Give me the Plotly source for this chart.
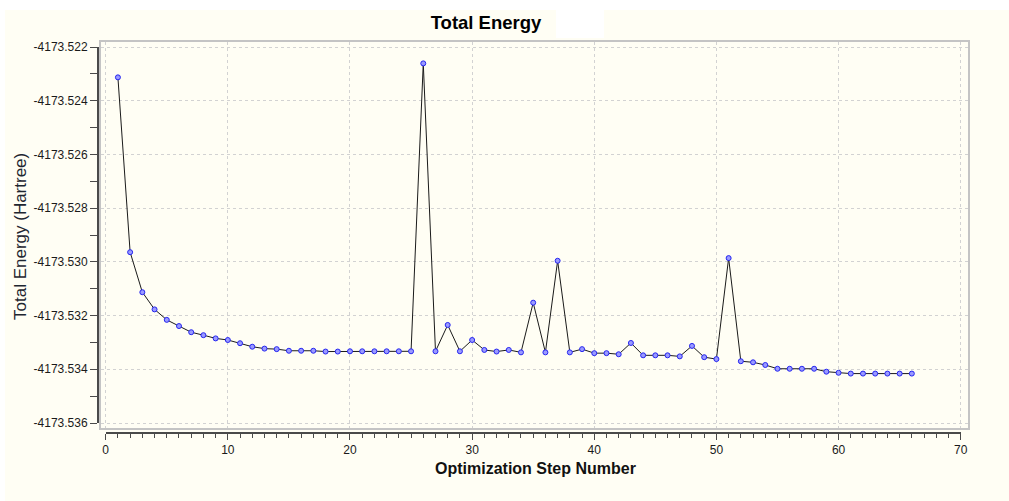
import plotly.graph_objects as go

# Geometry optimisation: total energy per step (Hartree)
steps = list(range(1, 67))
energies = [
    -4173.52313, -4173.52964, -4173.53113, -4173.53177, -4173.53216,
    -4173.53239, -4173.53262, -4173.53273, -4173.53285, -4173.53291,
    -4173.53303, -4173.53316, -4173.53323, -4173.53325, -4173.53331,
    -4173.53331, -4173.53331, -4173.53334, -4173.53334, -4173.53333,
    -4173.53333, -4173.53333, -4173.53333, -4173.53333, -4173.53333,
    -4173.52261, -4173.53333, -4173.53235, -4173.53333, -4173.53291,
    -4173.53328, -4173.53334, -4173.53328, -4173.53337, -4173.53152,
    -4173.53337, -4173.52996, -4173.53337, -4173.53325, -4173.53340,
    -4173.53340, -4173.53344, -4173.53302, -4173.53348, -4173.53348,
    -4173.53348, -4173.53352, -4173.53313, -4173.53355, -4173.53362,
    -4173.52986, -4173.53370, -4173.53374, -4173.53384, -4173.53398,
    -4173.53398, -4173.53398, -4173.53398, -4173.53409, -4173.53413,
    -4173.53416, -4173.53416, -4173.53416, -4173.53416, -4173.53416,
    -4173.53416,
]

x_ticks = [0, 10, 20, 30, 40, 50, 60, 70]
y_tickvals = [-4173.522, -4173.524, -4173.526, -4173.528,
              -4173.530, -4173.532, -4173.534, -4173.536]
y_ticktext = ["-4173.522", "-4173.524", "-4173.526", "-4173.528",
              "-4173.530", "-4173.532", "-4173.534", "-4173.536"]

title_text = "Total Energy"
x_title = "Optimization Step Number"
y_title = "Total Energy (Hartree)"

# ---- page layout in pixels ----
W, H = 1009, 501
L, R, T, B = 98, 968, 42, 433           # plotting paper area
FRAME_L, FRAME_B = 100.7, 427.7          # light frame around the grid
AX_X0, AX_X1 = 105.7, 960.7              # x axis (x_ticks[0] .. x_ticks[-1])
AX_YT, AX_YB = 47.0, 423.0               # y axis (top tick .. bottom tick)

PW, PH = R - L, B - T


def px_x(p):
    return (p - L) / PW


def px_y(p):
    return (B - p) / PH


x_lo, x_hi = x_ticks[0], x_ticks[-1]
y_hi, y_lo = y_tickvals[0], y_tickvals[-1]
sx = (AX_X1 - AX_X0) / (x_hi - x_lo)
sy = (AX_YB - AX_YT) / (y_hi - y_lo)

# data range of the framed grid area
grid_xr = [x_lo - (AX_X0 - FRAME_L) / sx, x_lo + (R - AX_X0) / sx]
grid_yr = [y_lo - (FRAME_B - AX_YB) / sy, y_hi + (AX_YT - T) / sy]

CREAM = "#FFFEF4"
AXIS_COL = "#4A4A4A"
FONT = "Liberation Sans, Arial, sans-serif"

fig = go.Figure()

# invisible placeholder so the framed grid subplot is created
fig.add_trace(go.Scatter(
    x=[x_ticks[1]], y=[y_tickvals[1]], mode="markers",
    marker=dict(opacity=0), hoverinfo="skip", showlegend=False,
    xaxis="x", yaxis="y",
))

fig.add_trace(go.Scatter(
    x=steps, y=energies, mode="lines+markers",
    line=dict(color="#1A1A1A", width=1),
    marker=dict(symbol="circle", size=5, color="#9A9AFF",
                line=dict(color="#2626F0", width=1)),
    hoverinfo="skip", showlegend=False,
    xaxis="x2", yaxis="y2", cliponaxis=False,
))

grid_style = dict(showgrid=True, gridcolor="#D2D2D2", gridwidth=1,
                  griddash="3px,3px", zeroline=False, ticks="",
                  showticklabels=False, showline=True, linecolor="#C4C4C4",
                  linewidth=2, mirror=True, fixedrange=True)

fig.update_layout(
    width=W, height=H,
    margin=dict(l=L, r=W - R, t=T, b=H - B, pad=0),
    paper_bgcolor="white",
    plot_bgcolor="rgba(0,0,0,0)",
    font=dict(family=FONT, size=12, color="#1A1A1A"),
    showlegend=False,
    title=dict(text="<b>" + title_text + "</b>", x=486 / W, y=1 - 23 / H,
               xref="container", yref="container", xanchor="center",
               yanchor="middle", font=dict(family=FONT, size=18.5, color="#000")),
    xaxis=dict(domain=[px_x(FRAME_L), 1], range=grid_xr,
               tickmode="linear", tick0=x_lo, dtick=x_ticks[1] - x_ticks[0],
               anchor="y", **grid_style),
    yaxis=dict(domain=[px_y(FRAME_B), 1], range=grid_yr,
               tickmode="linear", tick0=y_lo, dtick=y_tickvals[0] - y_tickvals[1],
               anchor="x", **grid_style),
    xaxis2=dict(domain=[px_x(AX_X0), px_x(AX_X1)], range=[x_lo, x_hi],
                anchor="free", position=0, showgrid=False, zeroline=False,
                showline=True, linecolor=AXIS_COL, linewidth=2,
                tickmode="array", tickvals=x_ticks,
                ticktext=[str(v) for v in x_ticks],
                ticks="outside", ticklen=6, tickwidth=1, tickcolor=AXIS_COL,
                minor=dict(tickmode="linear", tick0=x_lo, dtick=1,
                           ticks="outside", ticklen=4, tickwidth=1,
                           tickcolor=AXIS_COL, showgrid=False),
                tickfont=dict(family=FONT, size=12, color="#1A1A1A"),
                fixedrange=True),
    yaxis2=dict(domain=[px_y(AX_YB), px_y(AX_YT)], range=[y_lo, y_hi],
                anchor="free", position=0, showgrid=False, zeroline=False,
                showline=True, linecolor=AXIS_COL, linewidth=2,
                tickmode="array", tickvals=y_tickvals, ticktext=y_ticktext,
                ticks="outside", ticklen=7, tickwidth=1, tickcolor=AXIS_COL,
                minor=dict(tickmode="linear", tick0=y_lo, dtick=0.001,
                           ticks="outside", ticklen=7, tickwidth=1,
                           tickcolor=AXIS_COL, showgrid=False),
                tickfont=dict(family=FONT, size=12, color="#1A1A1A"),
                fixedrange=True),
    shapes=[
        # cream panel behind the whole chart
        dict(type="rect", xref="paper", yref="paper", layer="below",
             x0=px_x(5), x1=px_x(W), y0=px_y(H), y1=px_y(10),
             fillcolor=CREAM, line=dict(width=0)),
        # blank strip beside the title
        dict(type="rect", xref="paper", yref="paper", layer="below",
             x0=px_x(556), x1=px_x(604), y0=px_y(38), y1=px_y(10),
             fillcolor="white", line=dict(width=0)),
    ],
    annotations=[
        dict(text="<b>" + x_title + "</b>", xref="paper", yref="paper",
             x=px_x(535), y=px_y(468), xanchor="center", yanchor="middle",
             showarrow=False, font=dict(family=FONT, size=16, color="#111")),
        dict(text=y_title, xref="paper", yref="paper", textangle=-90,
             x=px_x(20), y=px_y(237), xanchor="center", yanchor="middle",
             showarrow=False, font=dict(family=FONT, size=17, color="#1E2630")),
    ],
)

fig.write_html("out.html")
